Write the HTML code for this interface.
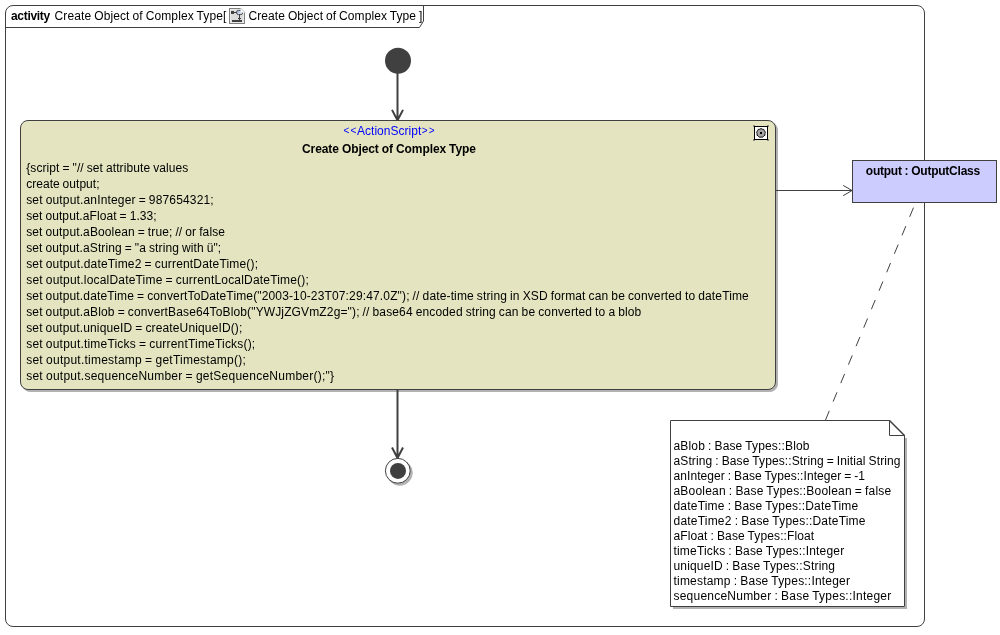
<!DOCTYPE html>
<html lang="en">
<head>
<meta charset="utf-8">
<title>Create Object of Complex Type</title>
<style>
html,body{margin:0;padding:0;background:#fff;}
body{width:1000px;height:635px;overflow:hidden;}
svg{display:block;will-change:transform;}
text{font-family:"Liberation Sans",Arial,Helvetica,sans-serif;font-size:12px;white-space:pre;word-spacing:-0.48px;}
text[font-weight=bold]{word-spacing:-0.2px;}
</style>
</head>
<body>
<svg width="1000" height="635" viewBox="0 0 1000 635">
<rect width="1000" height="635" fill="#fff"/>
<rect x="5.5" y="5.5" width="919" height="621" rx="7.5" ry="7.5" fill="none" stroke="#404040" stroke-width="1"/>
<path d="M5.5 27.5 H419.5 L423.5 21 V5.5" fill="none" stroke="#404040" stroke-width="1"/>
<text x="11" y="20" textLength="39.2" lengthAdjust="spacing" font-weight="bold">activity</text>
<text x="54.6" y="20" textLength="171.7" lengthAdjust="spacing">Create Object of Complex Type[</text>
<text x="248.5" y="20" textLength="173.8" lengthAdjust="spacing">Create Object of Complex Type ]</text>
<g>
<defs><linearGradient id="bg" x1="0" y1="0" x2="1" y2="1"><stop offset="0" stop-color="#9db4dc"/><stop offset="1" stop-color="#e8eefa"/></linearGradient></defs>
<rect x="229.5" y="8.5" width="15" height="15" fill="#dcdcdc" stroke="#808080"/>
<rect x="230.5" y="9.5" width="13" height="13" fill="none" stroke="#e9e9e9"/>
<rect x="231" y="11" width="3" height="3" fill="#404040"/>
<path d="M234 12.5 H237" stroke="#404040"/>
<rect x="236.6" y="10.4" width="6" height="4.2" rx="1.7" fill="url(#bg)" stroke="#404040" stroke-width="0.9"/>
<path d="M239.5 14.5 V20.5 M238 18.5 H241" stroke="#404040"/>
<path d="M240.6 7.5 H245.5 V12.6 H240.6 Z" fill="#fff"/>
<path d="M240.8 8 L245 12.4" stroke="#b8b8b8" stroke-width="0.8"/>
<rect x="232" y="20" width="10" height="2" fill="#404040"/>
</g>
<circle cx="398" cy="60.7" r="13" fill="#404040"/>
<path d="M397.5 73 V120 M392 109.9 L397.5 120.3 L403 109.9" fill="none" stroke="#404040" stroke-width="2"/>
<rect x="22.5" y="122.5" width="755" height="269" rx="7.5" ry="7.5" fill="#b2b2b2" stroke="#b2b2b2"/>
<rect x="20.5" y="120.5" width="755" height="269" rx="7.5" ry="7.5" fill="#e4e4c0" stroke="#404040"/>
<g>
<path d="M753 125h2v2h-2z M767 125h2v2h-2z M753 139h2v2h-2z M767 139h2v2h-2z" fill="#8c8c84"/>
<rect x="754.5" y="126.5" width="13" height="13" fill="#fff" stroke="#000"/>
<path d="M761 128.6 L762.3 129.2 L763.9 129.5 L764.5 130.9 L765.4 132.2 L764.9 133.6 L765 135.2 L763.7 136 L762.7 137.2 L761 137.1 L759.3 137.2 L758.3 136 L757 135.2 L757.1 133.6 L756.6 132.2 L757.5 130.9 L758.1 129.5 L759.7 129.2 Z" fill="#a4a4a4" stroke="#101010" stroke-width="1"/>
<rect x="760" y="132" width="2" height="2" fill="#000"/>
</g>
<text y="135" fill="#0000ff"><tspan x="343.5" dy="-0.7" font-size="10" letter-spacing="1.16">&lt;&lt;</tspan><tspan x="357" dy="0.7" letter-spacing="0.03">ActionScript</tspan><tspan x="421.7" dy="-0.7" font-size="10" letter-spacing="1.16">&gt;&gt;</tspan></text>
<text x="302" y="153" textLength="174.0" lengthAdjust="spacing" font-weight="bold">Create Object of Complex Type</text>
<text x="26.2" y="171.5" textLength="162.1" lengthAdjust="spacing">{script = "// set attribute values</text>
<text x="26.2" y="187.5" textLength="73.3" lengthAdjust="spacing">create output;</text>
<text x="26.2" y="203.5" textLength="187.5" lengthAdjust="spacing">set output.anInteger = 987654321;</text>
<text x="26.2" y="219.5" textLength="130.5" lengthAdjust="spacing">set output.aFloat = 1.33;</text>
<text x="26.2" y="235.5" textLength="198.8" lengthAdjust="spacing">set output.aBoolean = true; // or false</text>
<text x="26.2" y="251.5" textLength="195.0" lengthAdjust="spacing">set output.aString = "a string with ü";</text>
<text x="26.2" y="267.5" textLength="231.8" lengthAdjust="spacing">set output.dateTime2 = currentDateTime();</text>
<text x="26.2" y="283.5" textLength="282.6" lengthAdjust="spacing">set output.localDateTime = currentLocalDateTime();</text>
<text x="26.2" y="299.5" textLength="722.6" lengthAdjust="spacing">set output.dateTime = convertToDateTime("2003-10-23T07:29:47.0Z"); // date-time string in XSD format can be converted to dateTime</text>
<text x="26.2" y="315.5" textLength="615.1" lengthAdjust="spacing">set output.aBlob = convertBase64ToBlob("YWJjZGVmZ2g="); // base64 encoded string can be converted to a blob</text>
<text x="26.2" y="331.5" textLength="216.1" lengthAdjust="spacing">set output.uniqueID = createUniqueID();</text>
<text x="26.2" y="347.5" textLength="229.0" lengthAdjust="spacing">set output.timeTicks = currentTimeTicks();</text>
<text x="26.2" y="363.5" textLength="219.6" lengthAdjust="spacing">set output.timestamp = getTimestamp();</text>
<text x="26.2" y="379.5" textLength="307.8" lengthAdjust="spacing">set output.sequenceNumber = getSequenceNumber();"}</text>
<path d="M397.5 390 V458 M392 447.5 L397.5 458 L403 447.5" fill="none" stroke="#404040" stroke-width="2"/>
<circle cx="399.8" cy="472.8" r="12.5" fill="#b2b2b2" stroke="#b2b2b2"/>
<circle cx="397.8" cy="470.8" r="12.4" fill="#fff" stroke="#404040"/>
<circle cx="398" cy="470.9" r="8" fill="#404040"/>
<path d="M776 190.5 H852 M843.2 185.4 L852 190.5 L843.2 195.7" fill="none" stroke="#404040"/>
<rect x="852.5" y="160.5" width="144" height="42" fill="#ccccff" stroke="#404040"/>
<text x="865.8" y="175" textLength="114.4" lengthAdjust="spacing" font-weight="bold">output : OutputClass</text>
<path d="M913.5 207.6 L825.5 420" fill="none" stroke="#404040" stroke-dasharray="10 10"/>
<path d="M905 438 H907 V609 H673 V607 H905 Z" fill="#b2b2b2"/>
<path d="M670.5 420.5 H889.5 L904.5 435.5 V606.5 H670.5 Z" fill="#fff" stroke="#404040"/>
<path d="M889.5 420.5 V435.5 H904.5" fill="none" stroke="#404040"/>
<path d="M889.5 420.5 L904.5 435.5" fill="none" stroke="#404040" stroke-width="1.5"/>
<text x="673.5" y="449.5" textLength="136.0" lengthAdjust="spacing">aBlob : Base Types::Blob</text>
<text x="673.5" y="464.5" textLength="227.0" lengthAdjust="spacing">aString : Base Types::String = Initial String</text>
<text x="673.5" y="479.5" textLength="191.5" lengthAdjust="spacing">anInteger : Base Types::Integer = -1</text>
<text x="673.5" y="494.5" textLength="217.7" lengthAdjust="spacing">aBoolean : Base Types::Boolean = false</text>
<text x="673.5" y="509.5" textLength="184.7" lengthAdjust="spacing">dateTime : Base Types::DateTime</text>
<text x="673.5" y="524.5" textLength="192.0" lengthAdjust="spacing">dateTime2 : Base Types::DateTime</text>
<text x="673.5" y="539.5" textLength="140.7" lengthAdjust="spacing">aFloat : Base Types::Float</text>
<text x="673.5" y="554.5" textLength="170.7" lengthAdjust="spacing">timeTicks : Base Types::Integer</text>
<text x="673.5" y="569.5" textLength="161.5" lengthAdjust="spacing">uniqueID : Base Types::String</text>
<text x="673.5" y="584.5" textLength="176.5" lengthAdjust="spacing">timestamp : Base Types::Integer</text>
<text x="673.5" y="599.5" textLength="217.7" lengthAdjust="spacing">sequenceNumber : Base Types::Integer</text>
</svg>
</body>
</html>
